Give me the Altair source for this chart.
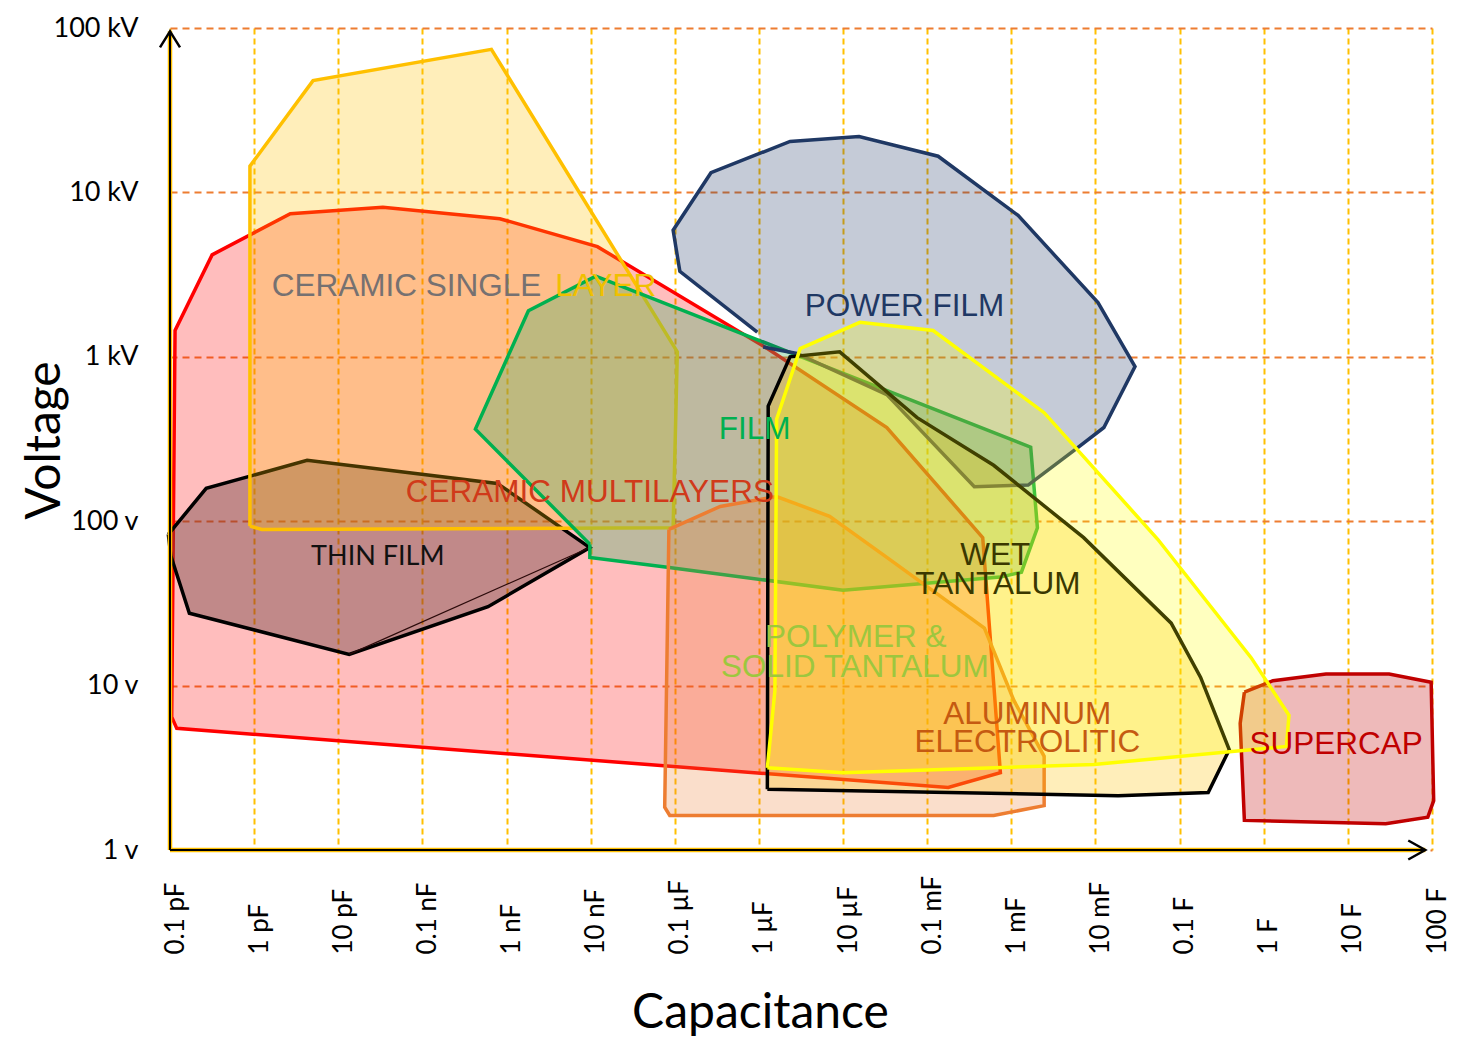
import altair as alt
import pandas as pd

# ---------------- axis ticks ----------------
x_ticks = [1e-13, 1e-12, 1e-11, 1e-10, 1e-9, 1e-8, 1e-7, 1e-6, 1e-5, 1e-4, 1e-3, 1e-2, 1e-1, 1.0, 10.0, 100.0]
x_tick_labels = ["0.1 pF", "1 pF", "10 pF", "0.1 nF", "1 nF", "10 nF", "0.1 µF", "1 µF", "10 µF",
                 "0.1 mF", "1 mF", "10 mF", "0.1 F", "1 F", "10 F", "100 F"]
y_ticks = [1.0, 10.0, 100.0, 1e3, 1e4, 1e5]
y_tick_labels = ["1 v", "10 v", "100 v", "1 kV", "10 kV", "100 kV"]

# ---------------- polygon vertices (log10 F, log10 V) ----------------
cm_logC = [-12.98, -12.94, -12.50, -11.57, -10.47, -9.08, -7.92, -5.90, -4.48, -3.34, -3.13, -3.75, -12.92]
cm_logV = [0.81, 3.16, 3.62, 3.87, 3.91, 3.84, 3.67, 3.05, 2.57, 1.90, 0.47, 0.38, 0.74]

tf_logC = [-13.02, -12.57, -11.37, -9.11, -8.01, -9.22, -10.87, -12.77, -12.99]
tf_logV = [1.92, 2.20, 2.37, 2.23, 1.84, 1.48, 1.19, 1.44, 1.79]
tf_inner_logC = [-10.87, -8.01]
tf_inner_logV = [1.19, 1.84]

csl_logC = [-12.05, -12.05, -11.30, -9.18, -6.97, -7.02, -11.91]
csl_logV = [1.97, 4.16, 4.68, 4.87, 3.03, 1.96, 1.95]

film_logC = [-8.01, -9.37, -8.74, -7.94, -5.55, -2.77, -2.69, -2.88, -3.13, -5.00, -7.09, -8.01]
film_logV = [1.86, 2.56, 3.28, 3.49, 3.01, 2.45, 1.96, 1.69, 1.66, 1.58, 1.72, 1.78]

pf_logC = [-6.02, -6.94, -7.02, -6.57, -5.63, -4.81, -3.87, -2.92, -1.97, -1.53, -1.90, -2.23,
           -2.80, -3.44, -4.48, -5.55, -5.95]
pf_logV = [3.15, 3.52, 3.77, 4.12, 4.31, 4.34, 4.22, 3.86, 3.33, 2.94, 2.57, 2.44,
           2.22, 2.21, 2.77, 3.02, 3.06]

al_logC = [-7.07, -6.46, -5.79, -5.16, -4.48, -3.32, -2.97, -2.61, -2.61, -3.21, -7.06, -7.12]
al_logV = [1.95, 2.09, 2.15, 2.03, 1.78, 1.35, 0.91, 0.57, 0.27, 0.21, 0.21, 0.26]

wt_logC = [-5.90, -5.89, -5.63, -5.04, -4.12, -3.21, -2.14, -1.10, -0.75, -0.41, -0.66, -1.73]
wt_logV = [0.37, 2.70, 3.00, 3.03, 2.63, 2.34, 1.90, 1.38, 1.05, 0.61, 0.35, 0.33]

sc_logC = [-0.23, 0.11, 0.74, 1.49, 1.99, 2.02, 1.95, 1.45, -0.23, -0.28]
sc_logV = [0.96, 1.03, 1.07, 1.07, 1.02, 0.30, 0.20, 0.16, 0.18, 0.77]

pt_logC = [-5.90, -5.81, -5.79, -5.51, -4.80, -3.93, -2.61, -1.26, -0.15, 0.30, 0.27, -2.02, -5.00]
pt_logV = [0.50, 0.97, 2.62, 3.05, 3.21, 3.16, 2.66, 1.89, 1.17, 0.82, 0.63, 0.52, 0.47]

# ---------------- labels ----------------
label_text = ["POWER FILM", "FILM", "CERAMIC MULTILAYERS", "WET", "TANTALUM", "POLYMER &",
              "SOLID TANTALUM", "ALUMINUM", "ELECTROLITIC", "SUPERCAP"]
label_logC = [-4.27, -6.05, -8.01, -3.19, -3.16, -4.85, -4.86, -2.81, -2.81, 0.86]
label_logV = [3.30, 2.555, 2.17, 1.79, 1.61, 1.29, 1.11, 0.82, 0.65, 0.64]
label_color = ["#1F3864", "#00B050", "#D03A1A", "#3A3800", "#3A3800", "#9DC73E",
               "#9DC73E", "#C55A11", "#C55A11", "#C00000"]

csl_text = ["CERAMIC SINGLE", "LAYER"]
csl_text_logC = [-11.79, -8.42]
csl_text_logV = [3.425, 3.425]
csl_text_color = ["#767171", "#F0C000"]

thin_text = ["THIN FILM"]
thin_text_logC = [-10.53]
thin_text_logV = [1.78]

# ---------------- build tables ----------------
polys = [
    ("CM", cm_logC, cm_logV, True),
    ("TF", tf_logC, tf_logV, True),
    ("TFi", tf_inner_logC, tf_inner_logV, False),
    ("CSL", csl_logC, csl_logV, True),
    ("FILM", film_logC, film_logV, True),
    ("PF", pf_logC, pf_logV, False),
    ("AL", al_logC, al_logV, True),
    ("WT", wt_logC, wt_logV, True),
    ("SC", sc_logC, sc_logV, True),
    ("PT", pt_logC, pt_logV, True),
]
rows = []
for name, lc, lv, closed in polys:
    pts = list(zip(lc, lv))
    if closed:
        pts.append(pts[0])
    for i, (c, v) in enumerate(pts):
        rows.append({"poly": name, "i": i, "C": 10 ** c, "V": 10 ** v})
df = pd.DataFrame(rows)

SW = 3.5
styles = {
    "CM": dict(stroke="#FF0000", fill="#FF0000", fillOpacity=0.26, strokeWidth=SW),
    "TF": dict(stroke="#000000", fill="#643C3C", fillOpacity=0.40, strokeWidth=SW),
    "TFi": dict(stroke="#2B0A0A", strokeWidth=1.2),
    "CSL": dict(stroke="#FFC000", fill="#FFC000", fillOpacity=0.27, strokeWidth=SW),
    "FILM": dict(stroke="#00B050", fill="#45B16A", fillOpacity=0.35, strokeWidth=SW),
    "PF": dict(stroke="#1F3864", fill="#1F3864", fillOpacity=0.26, strokeWidth=SW),
    "AL": dict(stroke="#ED7D31", fill="#ED7D31", fillOpacity=0.25, strokeWidth=SW),
    "WT": dict(stroke="#000000", fill="#FFC000", fillOpacity=0.27, strokeWidth=SW),
    "SC": dict(stroke="#C00000", fill="#C00000", fillOpacity=0.27, strokeWidth=SW),
    "PT": dict(stroke="#FFFF00", fill="#FFFF00", fillOpacity=0.25, strokeWidth=SW),
}

labels_df = pd.DataFrame({"text": label_text, "C": [10 ** c for c in label_logC],
                          "V": [10 ** v for v in label_logV], "color": label_color})
csl_df = pd.DataFrame({"text": csl_text, "C": [10 ** c for c in csl_text_logC],
                       "V": [10 ** v for v in csl_text_logV], "color": csl_text_color})
thin_df = pd.DataFrame({"text": thin_text, "C": [10 ** c for c in thin_text_logC],
                        "V": [10 ** v for v in thin_text_logV]})

axis_df = pd.DataFrame({"C": [1e-13, 1e-13], "V": [1.0, 1.0],
                        "C2": [1e-13, 10 ** 1.92], "V2": [10 ** 4.98, 1.0]})
arrow_up_df = pd.DataFrame({"C": [1e-13], "V": [10 ** 4.98]})
arrow_right_df = pd.DataFrame({"C": [10 ** 1.92], "V": [1.0]})

# ---------------- scales and axes ----------------
xs = alt.Scale(type="log", domain=[1e-13, 1e2], nice=False)
ys = alt.Scale(type="log", domain=[1, 1e5], nice=False)

x_expr = "[" + ",".join("'%s'" % s for s in x_tick_labels) + "][round(log(datum.value)/LN10) + 13]"
y_expr = "[" + ",".join("'%s'" % s for s in y_tick_labels) + "][round(log(datum.value)/LN10)]"

xaxis = alt.Axis(values=x_ticks, labelExpr=x_expr, title="Capacitance", grid=True,
                 gridColor="#FFC000", gridDash=[6, 4], gridWidth=2, domain=False, ticks=False,
                 labelAngle=270, labelAlign="left", labelBaseline="middle", labelPadding=104,
                 labelOffset=5, labelFont="Lato", labelFontSize=26, labelColor="black",
                 labelFlush=False, labelOverlap=False, titleFont="Lato", titleFontSize=48,
                 titleFontWeight="normal", titleColor="black", titleX=590, titleY=163,
                 titleBaseline="middle", titleAlign="center")
yaxis = alt.Axis(values=y_ticks, labelExpr=y_expr, title="Voltage", grid=True,
                 gridColor="#ED7D31", gridDash=[7, 5], gridWidth=2, domain=False, ticks=False,
                 labelPadding=32, labelFont="Lato", labelFontSize=27, labelColor="black",
                 labelFlush=False, labelOverlap=False, titleFont="Lato", titleFontSize=48,
                 titleFontWeight="normal", titleColor="black", titleX=-125, titleY=412,
                 titleAngle=270, titleBaseline="middle", titleAlign="center")

X = alt.X("C:Q", scale=xs, axis=xaxis)
Y = alt.Y("V:Q", scale=ys, axis=yaxis)

layers = []
base = alt.Chart(df).encode(x=X, y=Y, order="i:Q")
for name, _, _, _ in polys:
    layers.append(base.transform_filter(alt.datum.poly == name).mark_line(**styles[name]))

# axis lines and arrows
layers.append(alt.Chart(axis_df).mark_rule(color="#FFC000", strokeWidth=4.5)
              .encode(x=X, x2="C2", y=Y, y2="V2"))
layers.append(alt.Chart(axis_df).mark_rule(color="#000000", strokeWidth=2)
              .encode(x=X, x2="C2", y=Y, y2="V2"))
layers.append(alt.Chart(arrow_up_df).mark_point(shape="M-1,1.6L0,0L1,1.6", size=400, filled=False,
                                                stroke="black", strokeWidth=2.5, opacity=1)
              .encode(x=X, y=Y))
layers.append(alt.Chart(arrow_right_df).mark_point(shape="M-1.7,-0.95L0,0L-1.7,0.95", size=400,
                                                   filled=False, stroke="black", strokeWidth=2.5,
                                                   opacity=1)
              .encode(x=X, y=Y))

# text labels
layers.append(alt.Chart(labels_df).mark_text(font="Liberation Sans", fontSize=31.5, align="center",
                                             baseline="middle")
              .encode(x=X, y=Y, text="text:N", color=alt.Color("color:N", scale=None)))
layers.append(alt.Chart(csl_df).mark_text(font="Liberation Sans", fontSize=31.5, align="left",
                                          baseline="middle")
              .encode(x=X, y=Y, text="text:N", color=alt.Color("color:N", scale=None)))
layers.append(alt.Chart(thin_df).mark_text(font="Lato", fontSize=27, align="center",
                                           baseline="middle", color="#111111")
              .encode(x=X, y=Y, text="text:N"))

chart = alt.layer(*layers).properties(
    width=1262, height=822,
    padding={"left": 162, "top": 20, "right": 20, "bottom": 190},
    autosize=alt.AutoSizeParams(type="none"),
    background="white",
).configure_view(stroke=None)

chart.save("out.html", embed_options={"renderer": "svg", "actions": False})
